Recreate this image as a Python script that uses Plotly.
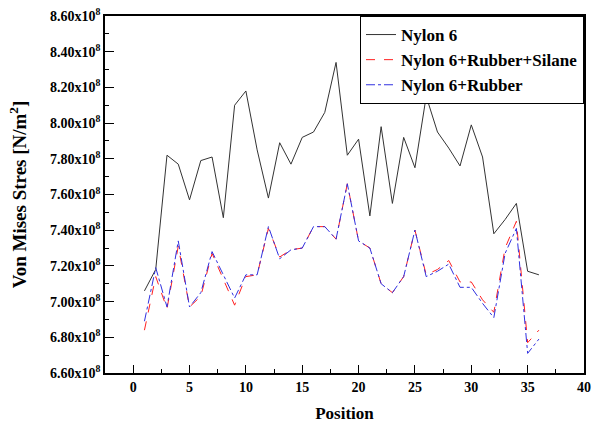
import plotly.graph_objects as go

position = list(range(1, 37))
nylon6 = [7.06, 7.18, 7.82, 7.77, 7.57, 7.79, 7.81, 7.47, 8.10, 8.18, 7.85, 7.58,
          7.89, 7.77, 7.92, 7.95, 8.06, 8.34, 7.82, 7.91, 7.48, 7.98, 7.55, 7.92,
          7.75, 8.15, 7.95, 7.86, 7.76, 7.99, 7.81, 7.38, 7.46, 7.55, 7.17, 7.15]
rubber_silane = [6.84, 7.14, 6.96, 7.31, 6.97, 7.03, 7.27, 7.13, 6.98, 7.14, 7.15, 7.41,
                 7.25, 7.29, 7.30, 7.42, 7.42, 7.35, 7.66, 7.34, 7.30, 7.10, 7.05, 7.14,
                 7.40, 7.15, 7.18, 7.23, 7.11, 7.11, 7.01, 6.94, 7.30, 7.45, 6.77, 6.84]
rubber = [6.89, 7.19, 6.97, 7.34, 6.97, 7.05, 7.28, 7.15, 7.02, 7.15, 7.15, 7.42,
          7.24, 7.29, 7.30, 7.42, 7.42, 7.35, 7.66, 7.34, 7.30, 7.10, 7.05, 7.14,
          7.40, 7.14, 7.17, 7.21, 7.08, 7.08, 6.99, 6.91, 7.27, 7.41, 6.71, 6.79]

y_ticks = [6.6, 6.8, 7.0, 7.2, 7.4, 7.6, 7.8, 8.0, 8.2, 8.4, 8.6]
y_tick_text = [f"{v:.2f}x10<sup>8</sup>" for v in y_ticks]
x_ticks = [0, 5, 10, 15, 20, 25, 30, 35, 40]

font_family = "Liberation Serif"

fig = go.Figure()
fig.add_trace(go.Scatter(x=position, y=nylon6, mode="lines", name="<b>Nylon 6</b>",
                         line=dict(color="#333333", width=1)))
fig.add_trace(go.Scatter(x=position, y=rubber_silane, mode="lines", name="<b>Nylon 6+Rubber+Silane</b>",
                         line=dict(color="#ff2020", width=1, dash="dash")))
fig.add_trace(go.Scatter(x=position, y=rubber, mode="lines", name="<b>Nylon 6+Rubber</b>",
                         line=dict(color="#3030e0", width=1, dash="dashdot")))

fig.update_layout(
    width=597, height=426,
    margin=dict(l=105, r=6, t=14, b=53),
    paper_bgcolor="white", plot_bgcolor="white",
    font=dict(family=font_family, color="black", size=14),
    showlegend=True,
    legend=dict(x=1, xanchor="right", y=1, yanchor="top",
                bordercolor="black", borderwidth=1, bgcolor="white",
                font=dict(family=font_family, size=17, color="black"),
                tracegroupgap=0, itemwidth=30),
    xaxis=dict(range=[-2.5, 40], tickvals=x_ticks, ticktext=[f"<b>{v}</b>" for v in x_ticks],
               showgrid=False, zeroline=False, showline=True, linecolor="black", linewidth=1.5,
               mirror=True, ticks="inside", ticklen=8, tickwidth=1.2, tickcolor="black",
               minor=dict(tickvals=[2.5 + 5 * i for i in range(8)], ticks="inside", ticklen=4,
                          tickwidth=1.2, tickcolor="black"),
               title=dict(text="<b>Position</b>", font=dict(size=17, family=font_family), standoff=14),
               tickfont=dict(size=14, family=font_family)),
    yaxis=dict(range=[6.6, 8.6], tickvals=y_ticks, ticktext=[f"<b>{t}</b>" for t in y_tick_text],
               showgrid=False, zeroline=False, showline=True, linecolor="black", linewidth=1.5,
               mirror=True, ticks="inside", ticklen=9, tickwidth=1.2, tickcolor="black",
               minor=dict(tickvals=[6.7 + 0.2 * i for i in range(10)], ticks="inside", ticklen=4,
                          tickwidth=1.2, tickcolor="black"),
               title=dict(text="<b>Von Mises Stres [N/m<sup>2</sup>]</b>", font=dict(size=19, family=font_family), standoff=18),
               tickfont=dict(size=14, family=font_family)),
)

fig.write_html("out.html")
